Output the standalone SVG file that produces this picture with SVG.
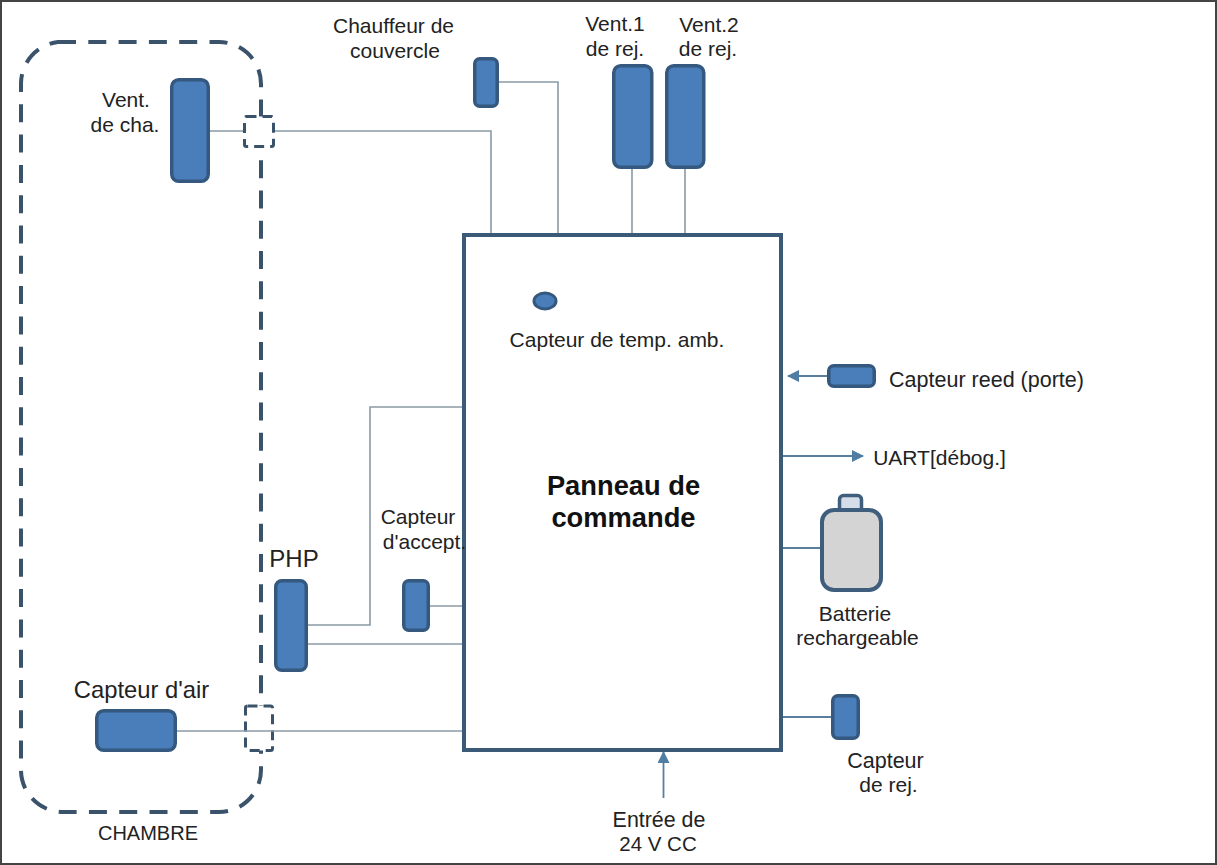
<svg xmlns="http://www.w3.org/2000/svg" width="1217" height="865" viewBox="0 0 1217 865">
<style>
text{font-family:"Liberation Sans",Arial,sans-serif;fill:#222;font-size:21px;text-anchor:middle}
.n{fill:#4a7ebb;stroke:#35587f;stroke-width:3.5}
.c{fill:none;stroke:#8b9aa5;stroke-width:1.6}
.a{fill:none;stroke:#5a7f9e;stroke-width:1.8}
.d{fill:none;stroke:#3a536b;stroke-width:4;stroke-dasharray:18 12.3}
.s{fill:#fff;stroke:#3a536b;stroke-width:3;stroke-dasharray:10 6}
</style>
<defs><marker id="ah" markerWidth="12" markerHeight="12" refX="11" refY="6" orient="auto" markerUnits="userSpaceOnUse"><path d="M0 0L12 6L0 12Z" fill="#4f7da3"/></marker></defs>
<rect width="1217" height="865" fill="#fff"/>
<rect x="1" y="1" width="1215" height="863" fill="none" stroke="#444" stroke-width="2"/>
<g id="chambre">
<path class="d" d="M58 42H219A42 42 0 0 1 261 84V770A42 42 0 0 1 219 812H63A42 42 0 0 1 21 770V84A42 42 0 0 1 58 42Z"/>
<text x="148" y="840" style="font-size:20px">CHAMBRE</text>
</g>
<g id="port-haut"><rect class="s" x="244.500" y="116.500" width="29" height="30" rx="2"/></g>
<g id="port-bas"><rect class="s" x="245.500" y="706" width="27" height="44.500" rx="2"/></g>
<g id="connectors">
<path class="c" d="M210 131H243M275 131H491V234"/>
<path class="c" d="M499 82H558V234"/>
<path class="c" d="M632 168V234M685 168V234"/>
<path class="c" d="M308 625H370V407H463"/>
<path class="c" d="M308 644H463"/>
<path class="c" d="M430 606H463"/>
<path class="c" d="M177 731H463"/>
<path class="a" d="M828 376H788" marker-end="url(#ah)"/>
<path class="a" d="M782 456H863" marker-end="url(#ah)"/>
<path class="a" d="M782 548H821"/>
<path class="a" d="M782 717H832"/>
<path class="a" d="M663.500 798V752" marker-end="url(#ah)"/>
</g>
<g id="vent-cha"><rect class="n" x="171.750" y="79.750" width="36.500" height="101.500" rx="7"/><text x="126" y="107">Vent.</text><text x="125" y="132">de cha.</text></g>
<g id="chauffeur"><rect class="n" x="474.750" y="58.750" width="22.500" height="47.500" rx="5"/><text x="393.500" y="33">Chauffeur de</text><text x="395" y="58">couvercle</text></g>
<g id="vent1"><rect class="n" x="613.750" y="65.750" width="38" height="101.500" rx="7"/><text x="615" y="31">Vent.1</text><text x="615" y="56">de rej.</text></g>
<g id="vent2"><rect class="n" x="666.750" y="65.750" width="37" height="101.500" rx="7"/><text x="709" y="32">Vent.2</text><text x="708" y="56">de rej.</text></g>
<g id="panneau">
<rect x="464" y="235" width="317" height="515" fill="#fff" stroke="#3a5a78" stroke-width="4"/>
<text x="623.500" y="495" style="font-size:27.300px;font-weight:bold;fill:#111">Panneau de</text>
<text x="623.500" y="527" style="font-size:27.300px;font-weight:bold;fill:#111">commande</text>
</g>
<g id="capteur-temp"><ellipse cx="545" cy="301" rx="11" ry="8" fill="#4a7ebb" stroke="#35587f" stroke-width="3"/><text x="617" y="347">Capteur de temp. amb.</text></g>
<g id="capteur-reed"><rect class="n" x="828.750" y="365.750" width="45.500" height="20.500" rx="5"/><text x="986.500" y="387" style="font-size:21.500px">Capteur reed (porte)</text></g>
<g id="uart"><text x="939.500" y="465">UART[débog.]</text></g>
<g id="batterie">
<rect x="839.500" y="495.500" width="22" height="17" rx="4" fill="#d5dde8" stroke="#3f5d7c" stroke-width="3.500"/>
<rect x="822" y="510" width="59" height="80" rx="12" fill="#d4d4d4" stroke="#3f5d7c" stroke-width="4"/>
<text x="855" y="621">Batterie</text><text x="857.500" y="645">rechargeable</text>
</g>
<g id="capteur-accept"><rect class="n" x="403.750" y="580.750" width="24.500" height="49.500" rx="5"/><text x="418" y="524">Capteur</text><text x="424.500" y="549">d'accept.</text></g>
<g id="php"><rect class="n" x="275.750" y="580.750" width="30.500" height="89.500" rx="6"/><text x="294" y="567" style="font-size:24px">PHP</text></g>
<g id="capteur-air"><rect class="n" x="96.750" y="710.750" width="78.500" height="39.500" rx="7"/><text x="141.500" y="698" style="font-size:23.800px">Capteur d'air</text></g>
<g id="capteur-rej"><rect class="n" x="832.750" y="695.750" width="25.500" height="42.500" rx="5"/><text x="885.500" y="768" style="font-size:21.500px">Capteur</text><text x="888.500" y="792">de rej.</text></g>
<g id="entree"><text x="659" y="827" style="font-size:21.400px">Entrée de</text><text x="658" y="851" style="font-size:20.500px">24 V CC</text></g>
</svg>
